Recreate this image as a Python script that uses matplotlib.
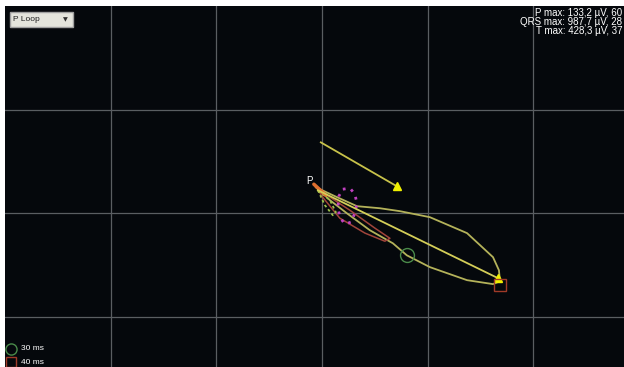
import numpy as np
import matplotlib.pyplot as plt
from matplotlib.patches import Rectangle

# vector loops, in µV (one grid division = 500 µV)
qrs_x = [-28, 38, 118, 227, 336, 402, 511, 687, 810, 843, 838, 810, 687, 511, 369, 275, 166, 62, -28]
qrs_y = [125, 63, 0, -82, -145, -203, -260, -323, -342, -328, -275, -212, -96, -19, 10, 24, 34, 82, 125]

t_x = [-19, 133, 251, 322, 298, 204, 85, 0, -19]
t_y = [116, 14, -72, -121, -135, -96, -24, 82, 116]

p_x = [99, 133, 156, 166, 156, 137, 109, 85, 76, 80, 99]
p_y = [116, 121, 92, 48, 0, -43, -53, -19, 29, 82, 116]

early_x = [-19, 14, 52, 66, 38, -19]
early_y = [111, 39, -10, 5, 63, 111]

# mean axes (start, end)
qrs_axis_x = [-19, 833]
qrs_axis_y = [111, -313]
t_axis_x = [-5, 355]
t_axis_y = [342, 130]

# time markers
mark_30 = (402, -203)
mark_40 = (843, -348)

# readout, as far as it is visible in the window
stats = ["P max: 133,2 µV, 60", "QRS max: 987,7 µV, 28", "T max: 428,3 µV, 37"]

plt.rcParams["font.family"] = ["Liberation Sans", "DejaVu Sans"]

fig = plt.figure(figsize=(6.24, 3.67), dpi=100)
fig.patch.set_facecolor("white")
ax = fig.add_axes([5 / 624, 0, 619 / 624, 361 / 367])
ax.set_facecolor("#05080c")
ax.set_xlim(-1500, 1430)
ax.set_ylim(-742, 1000)
ax.set_xticks(np.arange(-1000, 1500, 500))
ax.set_yticks(np.arange(-500, 1000, 500))
ax.grid(True, color="#5a5e62", lw=0.9)
ax.tick_params(length=0, labelbottom=False, labelleft=False)
for s in ax.spines.values():
    s.set_visible(False)

# loops
ax.plot(qrs_x, qrs_y, color="#b4b25a", lw=1.3)
ax.plot(t_x, t_y, color="#a0443a", lw=1.1)
ax.plot(early_x, early_y, color="#9cc04a", lw=1.3, ls=(0, (1.5, 1.5)))
ax.plot(p_x, p_y, color="#c040c0", lw=2, ls=(0, (1, 2.2)))
ax.plot([-38, 19], [140, 87], color="#e07030", lw=2.5, solid_capstyle="round")

# axes with arrow heads
ax.plot(qrs_axis_x, qrs_axis_y, color="#d4ce58", lw=1.3)
ax.plot(t_axis_x, t_axis_y, color="#c8c24a", lw=1.3)
ax.plot(qrs_axis_x[1], qrs_axis_y[1], marker="^", color="#f0f000", ms=6)
ax.plot(t_axis_x[1], t_axis_y[1], marker="^", color="#f0f000", ms=6)

# time markers
ax.plot(*mark_30, marker="o", mfc="none", mec="#4a8a4a", ms=10, mew=1)
ax.plot(*mark_40, marker="s", mfc="none", mec="#a03a28", ms=9, mew=1)

ax.text(-57, 154, "P", color="white", fontsize=7, ha="center", va="center")

# readout top right
for i, s in enumerate(stats):
    fig.text(622 / 624, 1 - (13 + 9 * i) / 367, s, color="white", fontsize=7,
             ha="right", va="center")

# legend bottom left
fig.add_artist(plt.Line2D([11 / 624], [1 - 349 / 367], marker="o", mfc="none",
                          mec="#4a8a4a", ms=8, mew=1, transform=fig.transFigure))
fig.add_artist(plt.Line2D([11 / 624], [1 - 362 / 367], marker="s", mfc="none",
                          mec="#a03a28", ms=7, mew=1, transform=fig.transFigure))
fig.text(21 / 624, 1 - 349 / 367, "30 ms", color="white", fontsize=6, va="center")
fig.text(21 / 624, 1 - 362 / 367, "40 ms", color="white", fontsize=6, va="center")

# drop-down selector top left
fig.add_artist(Rectangle((10 / 624, 1 - 27 / 367), 63 / 624, 15 / 367,
                         transform=fig.transFigure, facecolor="#e4e4dc",
                         edgecolor="#a0a0a0", lw=1))
fig.text(13 / 624, 1 - 19.5 / 367, "P Loop", color="#202020", fontsize=6, va="center")
fig.text(65 / 624, 1 - 19.5 / 367, "▼", color="#303030", fontsize=4.5,
         ha="center", va="center", family="DejaVu Sans")

fig.savefig("out.png", dpi=100)
